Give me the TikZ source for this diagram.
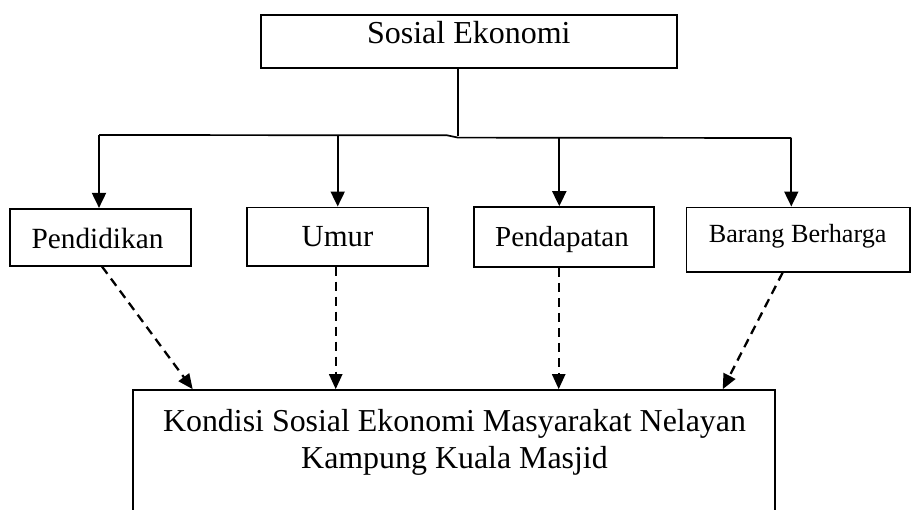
\documentclass[tikz,border=0pt]{standalone}
\usepackage{fontspec}
\setmainfont{Liberation Serif}
\usetikzlibrary{arrows.meta,fit}
\tikzset{
  boxnode/.style={draw, line width=1.6pt, rectangle, inner sep=0pt},
  lbl/.style={anchor=base, inner sep=0pt},
  conn/.style={line width=1.7pt},
  arr/.style={line width=1.9pt, -{Triangle[length=15pt,width=14pt]}},
  darr/.style={line width=2.3pt, dash pattern=on 9pt off 6pt, -{Triangle[length=15pt,width=13pt]}}
}
\begin{document}
\begin{tikzpicture}[x=1pt,y=-1pt]
\useasboundingbox (0,0) rectangle (912,509);
% boxes (corners in px)
\node[boxnode, fit={(260.7,14.7) (677,68)}] (top) {};
\node[boxnode, fit={(10,208.7) (190.7,265.7)}] (pend) {};
\node[boxnode, fit={(247,207.3) (427.7,265.7)}] (umur) {};
\node[boxnode, fit={(474,207) (654,267)}] (pdpt) {};
\node[boxnode, fit={(686.3,207.3) (910,271.7)}] (brg) {};
\node[boxnode, fit={(133,390) (775,514)}] (kond) {};
% labels
\node[lbl, font=\fontsize{32}{36}\selectfont] (tTop) at (468.8,43.3) {Sosial Ekonomi};
\node[lbl, font=\fontsize{29.3}{33}\selectfont] (tPend) at (97.5,248.3) {Pendidikan};
\node[lbl, font=\fontsize{30.7}{35}\selectfont] (tUmur) at (337.5,246.7) {Umur};
\node[lbl, font=\fontsize{29}{33}\selectfont] (tPdpt) at (562,246) {Pendapatan};
\node[lbl, font=\fontsize{26.2}{30}\selectfont] (tBrg) at (797.7,242.7) {Barang Berharga};
\node[lbl, font=\fontsize{31.9}{37}\selectfont] (tK1) at (454.5,431) {Kondisi Sosial Ekonomi Masyarakat Nelayan};
\node[lbl, font=\fontsize{31.9}{37}\selectfont] (tK2) at (454.5,468) {Kampung Kuala Masjid};
% bus coordinates
\coordinate (tb) at (457.7,135.5);
\coordinate (b1) at (99,135);
\coordinate (bj) at (447,135.3);
\coordinate (b2) at (337.7,135.2);
\coordinate (bk) at (458,137.6);
\coordinate (b3) at (559.3,137.8);
\coordinate (b4) at (791.3,138);
% connectors
\draw[conn] (top.south -| tb) -- (tb);
\draw[conn] (b1) -- (bj) -- (bk) -- (b4);
\draw[arr] (b1) -- (b1 |- pend.north);
\draw[arr] (b2) -- (b2 |- umur.north);
\draw[arr] (b3) -- (b3 |- pdpt.north);
\draw[arr] (b4) -- (b4 |- brg.north);
% dashed arrows
\coordinate (d1s) at (102,0);
\coordinate (d1e) at (192.7,0);
\coordinate (d2) at (335.7,0);
\coordinate (d3) at (558.7,0);
\coordinate (d4s) at (782.7,0);
\coordinate (d4e) at (722.7,0);
\draw[darr] (pend.south -| d1s) -- (kond.north -| d1e);
\draw[darr] (umur.south -| d2) -- (kond.north -| d2);
\draw[darr] (pdpt.south -| d3) -- (kond.north -| d3);
\draw[darr] (brg.south -| d4s) -- (kond.north -| d4e);
\end{tikzpicture}
\end{document}
